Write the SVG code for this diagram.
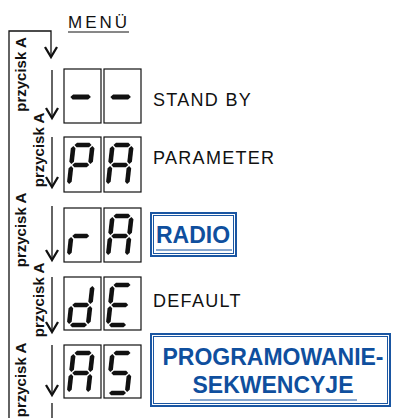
<svg xmlns="http://www.w3.org/2000/svg" width="394" height="418" viewBox="0 0 394 418">
  <style>
    .box { fill: #fff; stroke: #111; stroke-width: 1.2; }
    .seg use { fill: #111; }
    .lbl { font-family: "Liberation Sans", Arial, sans-serif; font-size: 18px; letter-spacing: 1.3px; fill: #111; }
    .key { font-family: "Liberation Sans", Arial, sans-serif; font-size: 15px; font-weight: bold; fill: #111; }
    .link { font-family: "Liberation Sans", Arial, sans-serif; font-size: 23px; font-weight: bold; fill: #0f4f9e; }
    .frame-o { fill: none; stroke: #1a56a2; stroke-width: 2; }
    .frame-i { fill: none; stroke: #1a56a2; stroke-width: 1; }
    .uline { stroke: #0f4f9e; stroke-width: 1; }
    .wire { fill: none; stroke: #111; stroke-width: 1.3; }
  </style>
  <defs>
    <!-- seven-segment pieces, upright; each digit group skews them -->
    <polygon id="sa" points="10.4,8 12.7,5.7 25.1,5.7 27.4,8 25.1,10.3 12.7,10.3"/>
    <polygon id="sg" points="10.4,28 12.7,25.7 25.1,25.7 27.4,28 25.1,30.3 12.7,30.3"/>
    <polygon id="sd" points="10.4,48 12.7,45.7 25.1,45.7 27.4,48 25.1,50.3 12.7,50.3"/>
    <polygon id="sf" points="9.4,9 11.7,11.3 11.7,24.7 9.4,27 7.1,24.7 7.1,11.3"/>
    <polygon id="sb" points="28.4,9 30.7,11.3 30.7,24.7 28.4,27 26.1,24.7 26.1,11.3"/>
    <polygon id="se" points="9.4,29 11.7,31.3 11.7,44.7 9.4,47 7.1,44.7 7.1,31.3"/>
    <polygon id="sc" points="28.4,29 30.7,31.3 30.7,44.7 28.4,47 26.1,44.7 26.1,31.3"/>
    <!-- the stand-by dash is a little longer and heavier than a middle segment -->
    <polygon id="sdash" points="9.5,28 12,25.5 27.5,25.5 30,28 27.5,30.5 12,30.5"/>
    <marker id="chev" markerUnits="userSpaceOnUse" markerWidth="14" markerHeight="16" viewBox="-12 -8 14 16" refX="0" refY="0" orient="auto" overflow="visible">
      <path d="M-10,-6 L0,0 L-10,6" fill="none" stroke="#111" stroke-width="2.3"/>
    </marker>
  </defs>

  <!-- menu title -->
  <g id="menu">
    <text class="lbl" x="68" y="28" style="font-size:17px;letter-spacing:3px">MENÜ</text>
    <line x1="68" y1="32" x2="129" y2="32" stroke="#111" stroke-width="1"/>
  </g>

  <!-- connectors: outer return loop and per-step arrows -->
  <g id="connectors">
    <polyline class="wire" points="9,418 9,31 51,31 51,57" marker-end="url(#chev)"/>
    <line class="wire" x1="52" y1="70" x2="52" y2="118" marker-end="url(#chev)"/>
    <line class="wire" x1="52" y1="137" x2="52" y2="187" marker-end="url(#chev)"/>
    <line class="wire" x1="52" y1="206" x2="52" y2="260" marker-end="url(#chev)"/>
    <line class="wire" x1="52" y1="277" x2="52" y2="332" marker-end="url(#chev)"/>
    <line class="wire" x1="52" y1="345" x2="52" y2="395" marker-end="url(#chev)"/>
    <line class="wire" x1="52" y1="403" x2="52" y2="418"/>
    <text class="key" text-anchor="middle" transform="translate(26,74.5) rotate(-90)">przycisk A</text>
    <text class="key" text-anchor="middle" transform="translate(43.5,150) rotate(-90)">przycisk A</text>
    <text class="key" text-anchor="middle" transform="translate(26,230) rotate(-90)">przycisk A</text>
    <text class="key" text-anchor="middle" transform="translate(43.5,300) rotate(-90)">przycisk A</text>
    <text class="key" text-anchor="middle" transform="translate(25.5,380) rotate(-90)">przycisk A</text>
  </g>

  <!-- stand by: two dashes -->
  <g id="standby">
    <rect class="box" x="64" y="69" width="37" height="54"/>
    <rect class="box" x="104" y="69" width="37" height="54"/>
    <g class="seg" transform="translate(64,69) skewX(-6.4)"><use href="#sdash"/></g>
    <g class="seg" transform="translate(104,69) skewX(-6.4)"><use href="#sdash"/></g>
    <text class="lbl" x="153" y="106">STAND BY</text>
  </g>

  <!-- parameter: P A -->
  <g id="parameter">
    <rect class="box" x="64" y="137" width="37" height="55"/>
    <rect class="box" x="104" y="137" width="37" height="55"/>
    <g class="seg" transform="translate(65,137) skewX(-6.4)"><use href="#sa"/><use href="#sb"/><use href="#sf"/><use href="#sg"/><use href="#se"/></g>
    <g class="seg" transform="translate(104,137) skewX(-6.4)"><use href="#sa"/><use href="#sb"/><use href="#sc"/><use href="#se"/><use href="#sf"/><use href="#sg"/></g>
    <text class="lbl" x="153" y="164">PARAMETER</text>
  </g>

  <!-- radio: r A -->
  <g id="radio">
    <rect class="box" x="64" y="208" width="37" height="54"/>
    <rect class="box" x="104" y="208" width="37" height="54"/>
    <g class="seg" transform="translate(65,208) skewX(-6.4)"><use href="#se"/><use href="#sg"/></g>
    <g class="seg" transform="translate(104,208) skewX(-6.4)"><use href="#sa"/><use href="#sb"/><use href="#sc"/><use href="#se"/><use href="#sf"/><use href="#sg"/></g>
    <rect class="frame-o" x="151" y="213" width="85" height="43"/>
    <rect class="frame-i" x="153.5" y="215.5" width="80" height="38"/>
    <text class="link" x="156" y="243">RADIO</text>
    <line class="uline" x1="156" y1="250" x2="232" y2="250"/>
  </g>

  <!-- default: d E -->
  <g id="default">
    <rect class="box" x="64" y="277" width="37" height="53"/>
    <rect class="box" x="104" y="277" width="37" height="53"/>
    <g class="seg" transform="translate(65,277) skewX(-6.4)"><use href="#sb"/><use href="#sc"/><use href="#sd"/><use href="#se"/><use href="#sg"/></g>
    <g class="seg" transform="translate(104,277) skewX(-6.4)"><use href="#sa"/><use href="#sd"/><use href="#se"/><use href="#sf"/><use href="#sg"/></g>
    <text class="lbl" x="153" y="307">DEFAULT</text>
  </g>

  <!-- sequence programming: A S -->
  <g id="sequences">
    <rect class="box" x="64" y="345" width="37" height="53"/>
    <rect class="box" x="104" y="345" width="37" height="53"/>
    <g class="seg" transform="translate(65,345) skewX(-6.4)"><use href="#sa"/><use href="#sb"/><use href="#sc"/><use href="#se"/><use href="#sf"/><use href="#sg"/></g>
    <g class="seg" transform="translate(104,345) skewX(-6.4)"><use href="#sa"/><use href="#sf"/><use href="#sg"/><use href="#sc"/><use href="#sd"/></g>
    <rect class="frame-o" x="151" y="334" width="239" height="72"/>
    <rect class="frame-i" x="153.5" y="336.5" width="234" height="67"/>
    <text class="link" x="273" y="365" text-anchor="middle">PROGRAMOWANIE-</text>
    <text class="link" x="273" y="393" text-anchor="middle">SEKWENCYJE</text>
    <line class="uline" x1="190" y1="400" x2="357" y2="400"/>
  </g>
</svg>
